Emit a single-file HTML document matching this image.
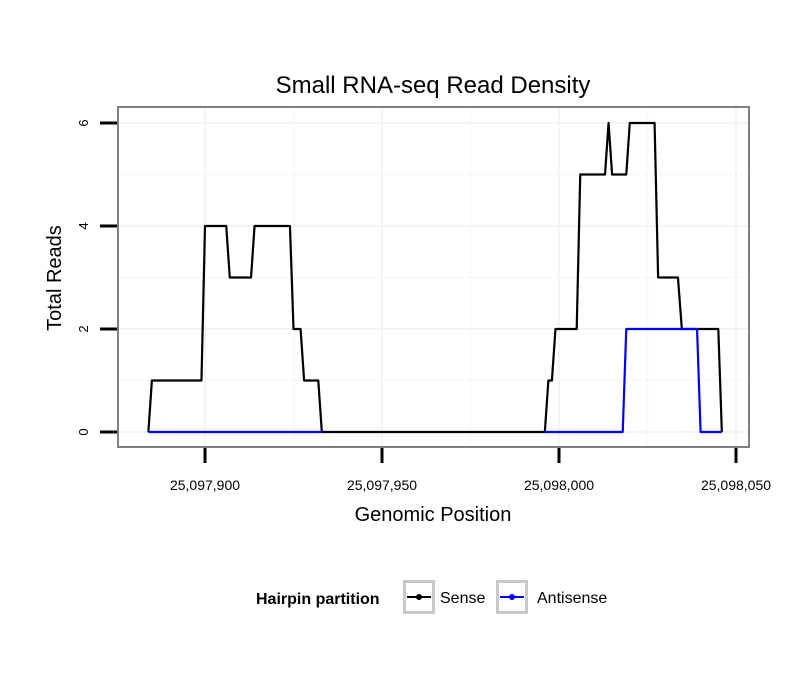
<!DOCTYPE html>
<html><head><meta charset="utf-8"><style>
body{margin:0;background:#fff;}
svg{display:block;font-family:"Liberation Sans",sans-serif;}
</style></head><body>
<svg id="chart" width="810" height="690">
<rect width="810" height="690" fill="#fff"/>
<text x="433" y="93" font-size="24" text-anchor="middle">Small RNA-seq Read Density</text>
<g id="grid"></g>
<g id="series"></g>
<rect x="118" y="107" width="631" height="340" fill="none" stroke="#808080" stroke-width="2"/>
<g id="axes"></g>
<text x="433" y="521" font-size="20" text-anchor="middle">Genomic Position</text>
<text transform="translate(61,278) rotate(-90)" font-size="20" text-anchor="middle">Total Reads</text>
<g>
<text x="256" y="604" font-size="16" font-weight="bold">Hairpin partition</text>
<g>
<rect x="404.5" y="581.5" width="29" height="31" fill="#fff" stroke="#c8c8c8" stroke-width="3"/>
<line x1="407" y1="597" x2="431" y2="597" stroke="#000" stroke-width="2"/>
<circle cx="419" cy="597" r="3" fill="#000"/>
<text x="440" y="603" font-size="16">Sense</text>
</g>
<g>
<rect x="497.5" y="581.5" width="29" height="31" fill="#fff" stroke="#c8c8c8" stroke-width="3"/>
<line x1="500" y1="597" x2="524" y2="597" stroke="#00f" stroke-width="2"/>
<circle cx="512" cy="597" r="3" fill="#00f"/>
<text x="537" y="603" font-size="16">Antisense</text>
</g>
</g>
</svg>
<script>
const BASE = 25097800;
const senseX = [84,85,99,100,106,107,113,114,124,125,127,128,132,133,196,197,198,199,205,206,213,214,215,219,220,227,228,233.6,234.7,245,246];
const senseY = [0,1,1,4,4,3,3,4,4,2,2,1,1,0,0,1,1,2,2,5,5,6,5,5,6,6,3,3,2,2,0];
const antiX = [84,133,null,196,218,219,239,240,246];
const antiY = [0,0,null,0,0,2,2,0,0];
const xTicks = [25097900,25097950,25098000,25098050];
const xTickLabels = ["25,097,900","25,097,950","25,098,000","25,098,050"];
const yTicks = [0,2,4,6];
const yTickLabels = ["0","2","4","6"];

const NS="http://www.w3.org/2000/svg";
const sx = v => 205 + (v - 25097900) * 3.54;
const sy = v => 432 - v * 51.5;
function mk(tag, attrs, parent){const e=document.createElementNS(NS,tag);for(const k in attrs)e.setAttribute(k,attrs[k]);parent.appendChild(e);return e;}
const grid=document.getElementById('grid'), axes=document.getElementById('axes'), series=document.getElementById('series');
for(let i=0;i<xTicks.length;i++){
  const gl=mk('line',{x1:sx(xTicks[i]),x2:sx(xTicks[i]),y1:107,y2:447,stroke:'#f4f4f4','stroke-width':2},grid);
  
  
  if(i<xTicks.length-1){
    const m=(xTicks[i]+xTicks[i+1])/2;
    const ml=mk('line',{x1:sx(m),x2:sx(m),y1:107,y2:447,stroke:'#f8f8f8','stroke-width':1.5},grid);
    
    
  }
  const t=mk('line',{x1:sx(xTicks[i]),x2:sx(xTicks[i]),y1:448,y2:463,stroke:'#000','stroke-width':3},axes);
  
  
  const lb=mk('text',{x:sx(xTicks[i]),y:490,'font-size':14,'text-anchor':'middle'},axes);
  lb.textContent=xTickLabels[i];
  
  
}
for(let i=0;i<yTicks.length;i++){
  const gl=mk('line',{x1:118,x2:749,y1:sy(yTicks[i]),y2:sy(yTicks[i]),stroke:'#f4f4f4','stroke-width':2},grid);
  
  
  if(i<yTicks.length-1){
    const m=(yTicks[i]+yTicks[i+1])/2;
    const ml=mk('line',{x1:118,x2:749,y1:sy(m),y2:sy(m),stroke:'#f8f8f8','stroke-width':1.5},grid);
    
    
  }
  const t=mk('line',{x1:100,x2:117,y1:sy(yTicks[i]),y2:sy(yTicks[i]),stroke:'#000','stroke-width':3},axes);
  
  
  const lb=mk('text',{'font-size':13,'text-anchor':'middle',transform:`translate(88,${sy(yTicks[i])}) rotate(-90)`},axes);
  lb.textContent=yTickLabels[i];
  
  
}
function pathD(xs,ys){let d='',pen=false;for(let i=0;i<xs.length;i++){if(xs[i]===null){pen=false;continue;}d+=(pen?'L':'M')+sx(BASE+xs[i])+','+sy(ys[i]);pen=true;}return d;}
const sp=mk('path',{d:pathD(senseX,senseY),fill:'none',stroke:'#000','stroke-width':2.2,'stroke-linejoin':'round'},series);


const ap=mk('path',{d:pathD(antiX,antiY),fill:'none',stroke:'#00f','stroke-width':2.2,'stroke-linejoin':'round'},series);


</script>
</body></html>
